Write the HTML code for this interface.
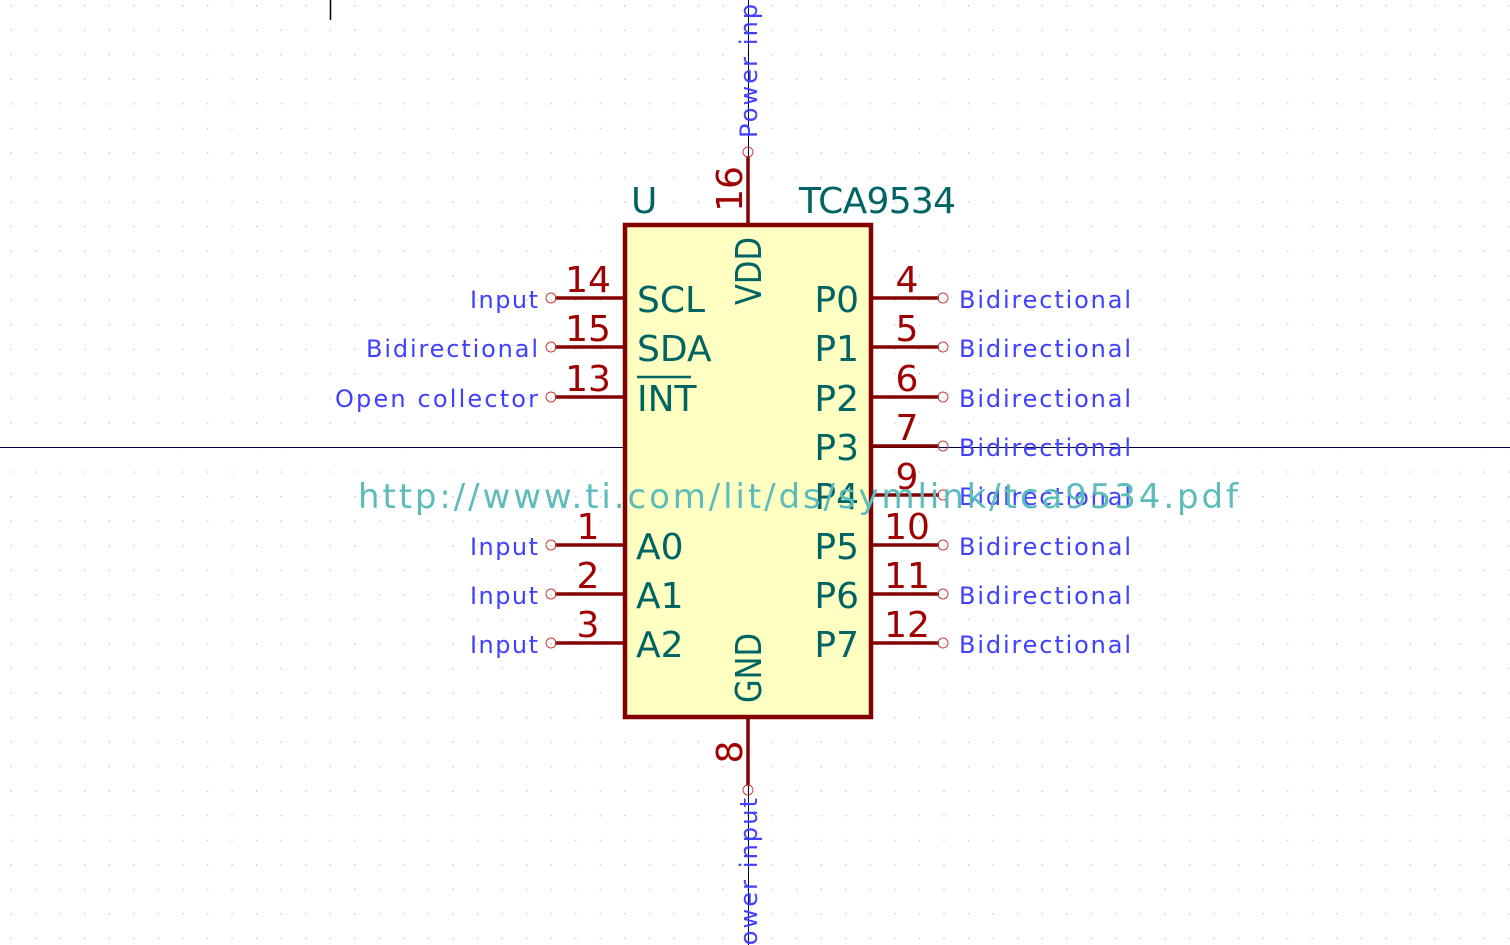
<!DOCTYPE html>
<html><head><meta charset="utf-8"><style>
html,body{margin:0;padding:0;background:#fff;}
svg{display:block;}
text{font-family:"DejaVu Sans","Liberation Sans",sans-serif;}
.t{fill:#4040ff;font-size:24px;}
.n{fill:#a00000;font-size:36px;}
.p{fill:#006464;font-size:36px;}
</style></head><body>
<svg width="1510" height="945" viewBox="0 0 1510 945" xmlns="http://www.w3.org/2000/svg">
<defs>
<pattern id="g" x="10.5" y="5" width="24.55" height="24.55" patternUnits="userSpaceOnUse">
<rect x="0" y="0" width="1.2" height="1.2" fill="#b8b8b8"/>
</pattern>
</defs>
<rect width="1510" height="945" fill="url(#g)"/>
<line x1="0" y1="447.5" x2="1510" y2="447.5" stroke="#000040" stroke-width="1"/>
<line x1="748.5" y1="0" x2="748.5" y2="945" stroke="#000040" stroke-width="1"/>
<line x1="330.5" y1="0" x2="330.5" y2="20" stroke="#000" stroke-width="1.5"/>

<rect x="625" y="225" width="246" height="492" fill="#ffffc2" stroke="#840000" stroke-width="4.5"/>

<g stroke="#840000" stroke-width="3.5">
<line x1="555" y1="298" x2="625" y2="298"/><line x1="555" y1="347" x2="625" y2="347"/><line x1="555" y1="397" x2="625" y2="397"/>
<line x1="555" y1="545" x2="625" y2="545"/><line x1="555" y1="594" x2="625" y2="594"/><line x1="555" y1="643" x2="625" y2="643"/>
<line x1="871" y1="298" x2="939" y2="298"/><line x1="871" y1="347" x2="939" y2="347"/><line x1="871" y1="397" x2="939" y2="397"/><line x1="871" y1="446" x2="939" y2="446"/>
<line x1="871" y1="495" x2="939" y2="495"/><line x1="871" y1="545" x2="939" y2="545"/><line x1="871" y1="594" x2="939" y2="594"/><line x1="871" y1="643" x2="939" y2="643"/>
<line x1="748" y1="156" x2="748" y2="225"/><line x1="748" y1="717" x2="748" y2="786"/>
</g>
<g fill="none" stroke="#c84040" stroke-width="1">
<circle cx="551" cy="298" r="5"/><circle cx="551" cy="347" r="5"/><circle cx="551" cy="397" r="5"/>
<circle cx="551" cy="545" r="5"/><circle cx="551" cy="594" r="5"/><circle cx="551" cy="643" r="5"/>
<circle cx="943" cy="298" r="5"/><circle cx="943" cy="347" r="5"/><circle cx="943" cy="397" r="5"/><circle cx="943" cy="446" r="5"/>
<circle cx="943" cy="495" r="5"/><circle cx="943" cy="545" r="5"/><circle cx="943" cy="594" r="5"/><circle cx="943" cy="643" r="5"/>
<circle cx="748" cy="152" r="5"/><circle cx="748" cy="790" r="5"/>
</g>

<g class="t" text-anchor="end">
<text x="538" y="308" textLength="68">Input</text>
<text x="538" y="357" textLength="172">Bidirectional</text>
<text x="538" y="407" textLength="203">Open collector</text>
<text x="538" y="555" textLength="68">Input</text>
<text x="538" y="604" textLength="68">Input</text>
<text x="538" y="653" textLength="68">Input</text>
</g>
<g class="t">
<text x="959" y="308" textLength="172">Bidirectional</text>
<text x="959" y="357" textLength="172">Bidirectional</text>
<text x="959" y="407" textLength="172">Bidirectional</text>
<text x="959" y="456" textLength="172">Bidirectional</text>
<text x="959" y="505" textLength="172">Bidirectional</text>
<text x="959" y="555" textLength="172">Bidirectional</text>
<text x="959" y="604" textLength="172">Bidirectional</text>
<text x="959" y="653" textLength="172">Bidirectional</text>
</g>
<text class="t" transform="translate(757,138) rotate(-90)" textLength="163">Power input</text>
<text class="t" text-anchor="end" transform="translate(757,798) rotate(-90)" textLength="163">Power input</text>

<g class="n" text-anchor="middle">
<text x="588" y="292">14</text><text x="588" y="341">15</text><text x="588" y="391">13</text>
<text x="588" y="539">1</text><text x="588" y="588">2</text><text x="588" y="637">3</text>
<text x="907" y="292">4</text><text x="907" y="341">5</text><text x="907" y="391">6</text><text x="907" y="440">7</text>
<text x="907" y="489">9</text><text x="907" y="539">10</text><text x="907" y="588">11</text><text x="907" y="637">12</text>
</g>
<text class="n" text-anchor="middle" transform="translate(742,189) rotate(-90)">16</text>
<text class="n" text-anchor="middle" transform="translate(742,752) rotate(-90)">8</text>

<g class="p">
<text x="637" y="312">SCL</text><text x="637" y="361">SDA</text><text x="637" y="411">INT</text>
<text x="636" y="559">A0</text><text x="636" y="608">A1</text><text x="636" y="657">A2</text>
<text x="631" y="213">U</text><text x="799" y="213" textLength="157">TCA9534</text>
</g>
<line x1="637" y1="377" x2="691" y2="377" stroke="#006464" stroke-width="2.5"/>
<g class="p" text-anchor="end">
<text x="859" y="312">P0</text><text x="859" y="361">P1</text><text x="859" y="411">P2</text><text x="859" y="460">P3</text>
<text x="859" y="509">P4</text><text x="859" y="559">P5</text><text x="859" y="608">P6</text><text x="859" y="657">P7</text>
</g>
<text class="p" transform="translate(761,305) rotate(-90)" textLength="68" lengthAdjust="spacingAndGlyphs">VDD</text>
<text class="p" transform="translate(761,703) rotate(-90)" textLength="70" lengthAdjust="spacingAndGlyphs">GND</text>

<text x="358" y="508" style="fill:#5cbcbc;font-size:34px" textLength="880">http://www.ti.com/lit/ds/symlink/tca9534.pdf</text>
</svg>
</body></html>
